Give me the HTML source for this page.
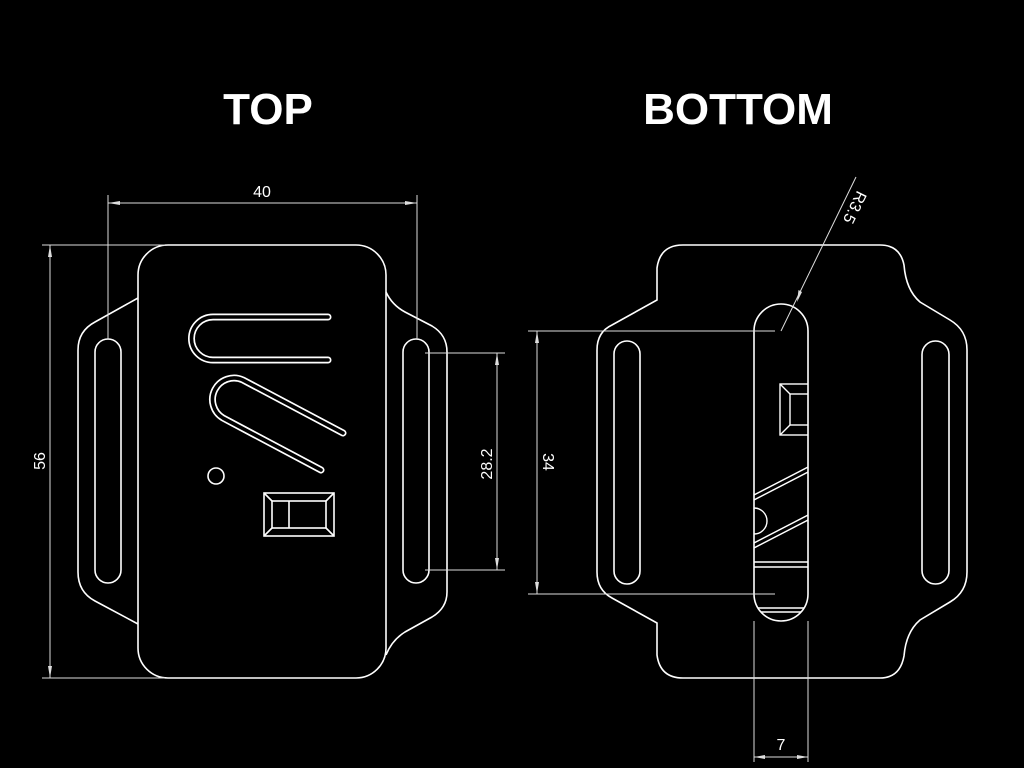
<!DOCTYPE html>
<html><head><meta charset="utf-8"><style>
html,body{margin:0;padding:0;background:#000;}
svg{display:block;}
</style></head><body>
<svg width="1024" height="768" viewBox="0 0 1024 768" xmlns="http://www.w3.org/2000/svg">
<defs>
<clipPath id="slotclip"><rect x="754" y="304" width="54" height="317" rx="27" ry="27"/></clipPath>
</defs>
<rect width="1024" height="768" fill="#000"/>
<g font-family="Liberation Sans, sans-serif" fill="#fff">
<text x="268" y="124" font-size="44" font-weight="bold" text-anchor="middle">TOP</text>
<text x="738" y="124" font-size="44" font-weight="bold" text-anchor="middle">BOTTOM</text>
</g>

<!-- TOP VIEW -->
<g fill="none" stroke="#fff" stroke-width="1.6">
<rect x="138" y="245" width="248" height="433" rx="30" ry="30"/>
<path d="M138,298 L95,322 Q78,331 78,350 L78,572 Q78,592 95,601 L138,624"/>
<path d="M386,292 Q392,305 405,312 L432,326 Q447,335 447,352 L447,592 Q447,608 432,617 L405,632 Q392,640 386,655"/>
<rect x="95" y="339" width="26" height="244" rx="13"/>
<rect x="403" y="339" width="26" height="244" rx="13"/>
<circle cx="216" cy="476" r="8"/>
<rect x="264" y="493" width="70" height="43"/>
<rect x="272" y="501" width="54" height="27"/>
<path d="M264,493 L272,501 M334,493 L326,501 M264,536 L272,528 M334,536 L326,528 M289,501 L289,528"/>
</g>
<g fill="none" stroke-linecap="round">
<path d="M328,317 H213 A21.5,21.5 0 0 0 213,360 H328" stroke="#fff" stroke-width="7"/>
<path d="M328,317 H213 A21.5,21.5 0 0 0 213,360 H328" stroke="#000" stroke-width="3.6"/>
<path d="M343,433 L243,380 A21.5,21.5 0 0 0 223,418 L321,470" stroke="#fff" stroke-width="7"/>
<path d="M343,433 L243,380 A21.5,21.5 0 0 0 223,418 L321,470" stroke="#000" stroke-width="3.6"/>
</g>

<!-- TOP dims -->
<g stroke="#ddd" stroke-width="1" fill="none">
<path d="M108,195 V339 M417,195 V339 M108,203 H417"/>
<path d="M42,245 H165 M42,678 H165 M50,245 V678"/>
<path d="M425,353 H505 M425,570 H505 M497,353 V570"/>
</g>
<g fill="#ddd">
<path d="M108,203 L120,201 L120,205 Z M417,203 L405,201 L405,205 Z"/>
<path d="M50,245 L48,257 L52,257 Z M50,678 L48,666 L52,666 Z"/>
<path d="M497,353 L495,365 L499,365 Z M497,570 L495,558 L499,558 Z"/>
</g>
<g font-family="Liberation Sans, sans-serif" font-size="16" fill="#fff">
<text x="262" y="197" text-anchor="middle">40</text>
<text transform="translate(45,461) rotate(-90)" text-anchor="middle">56</text>
<text transform="translate(492,464) rotate(-90)" text-anchor="middle">28.2</text>
</g>

<!-- BOTTOM VIEW -->
<g fill="none" stroke="#fff" stroke-width="1.6">
<path d="M683,245 H880 Q900,245 904,265 Q906,290 920,302 L950,320 Q967,330 967,350 L967,572 Q967,592 950,602 L920,620 Q906,632 904,656 Q900,678 880,678 H683 Q660,678 657,655 L657,623 L612,598 Q597,590 597,572 L597,350 Q597,332 612,325 L657,300 L657,268 Q660,245 683,245 Z"/>
<rect x="614" y="341" width="26" height="243" rx="13"/>
<rect x="922" y="341" width="27" height="243" rx="13.5"/>
<rect x="754" y="304" width="54" height="317" rx="27" ry="27"/>
<g clip-path="url(#slotclip)" stroke-width="1.4">
<rect x="780" y="384" width="40" height="51"/>
<rect x="790" y="394" width="30" height="31"/>
<path d="M780,384 L790,394 M780,435 L790,425"/>
<path d="M750,497 L812,465 M750,502 L812,470"/>
<path d="M750,545 L812,513 M750,550 L812,518"/>
<circle cx="754" cy="521" r="13"/>
<path d="M754,562 H808 M754,567 H808"/>
<path d="M754,608 H808 M754,612 H808"/>
</g>
</g>
<g stroke="#ddd" stroke-width="1" fill="none">
<path d="M528,331 H775 M528,594 H775 M537,331 V594"/>
<path d="M754,621 V762 M808,621 V762 M754,757 H808"/>
<path d="M781,331 L856,177"/>
</g>
<g fill="#ddd">
<path d="M537,331 L535,343 L539,343 Z M537,594 L535,582 L539,582 Z"/>
<path d="M754,757 L765,755 L765,759 Z M808,757 L797,755 L797,759 Z"/>
<path d="M797,302 L798.5,290 L802,292 Z"/>
</g>
<g font-family="Liberation Sans, sans-serif" font-size="16" fill="#fff">
<text transform="translate(543,462) rotate(90)" text-anchor="middle">34</text>
<text x="781" y="750" text-anchor="middle">7</text>
<text transform="translate(850,205) rotate(116)" text-anchor="middle">R3.5</text>
</g>
</svg>
</body></html>
